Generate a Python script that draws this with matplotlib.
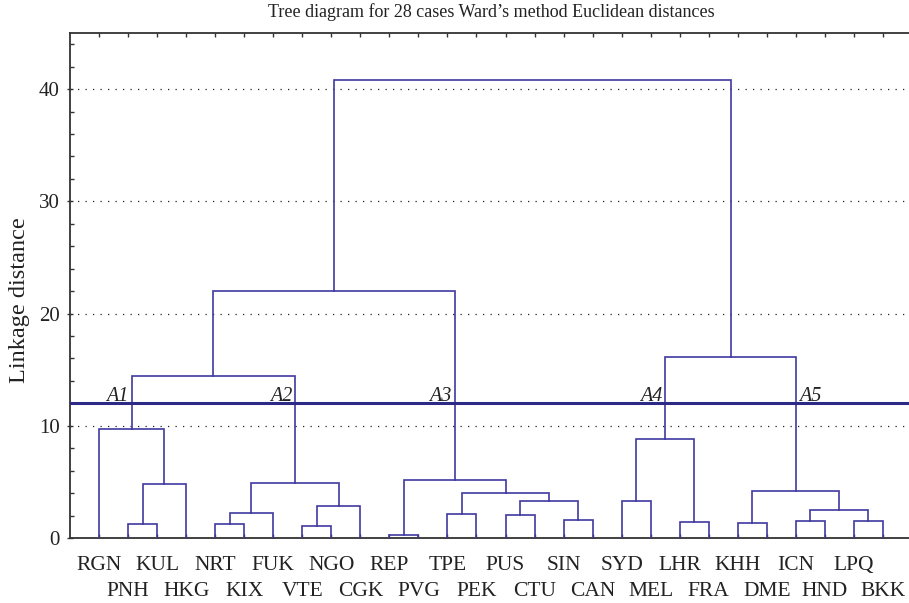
import numpy as np
import matplotlib.pyplot as plt
from matplotlib.ticker import MultipleLocator

plt.rcParams['font.family'] = ['Liberation Serif', 'DejaVu Serif']

# leaf order as drawn (left to right)
leaf_labels = ["RGN", "PNH", "KUL", "HKG", "NRT", "KIX", "FUK", "VTE", "NGO", "CGK",
               "REP", "PVG", "TPE", "PEK", "PUS", "CTU", "SIN", "CAN", "SYD", "MEL",
               "LHR", "FRA", "KHH", "DME", "ICN", "HND", "LPQ", "BKK"]

# merges, scipy style: ids < 28 are leaves, id 28+k is the k-th merge
merge_left = [1, 28, 0, 4, 31, 7, 33, 32, 30, 10, 12, 14, 16, 39, 38, 37, 36,
              18, 20, 45, 22, 24, 26, 49, 48, 47, 44]
merge_right = [2, 3, 29, 5, 6, 8, 9, 34, 35, 11, 13, 15, 17, 40, 41, 42, 43,
               19, 21, 46, 23, 25, 27, 50, 51, 52, 53]
merge_height = [1.25, 4.81, 9.74, 1.22, 2.26, 1.04, 2.88, 4.87, 14.43,
                0.30, 2.17, 2.05, 1.63, 3.27, 4.01, 5.20, 22.0,
                3.27, 1.43, 8.79, 1.34, 1.54, 1.54, 2.52, 4.16, 16.15, 40.8]

cut_level = 12
cluster_names = ["A1", "A2", "A3", "A4", "A5"]

line_col = '#4038a0'
cut_col = '#2c2a86'
text_col = '#222222'

fig = plt.figure(figsize=(9.09, 6.03), dpi=100)
ax = fig.add_axes([70 / 909, 65 / 603, 842 / 909, 505 / 603])

n = len(leaf_labels)
pos = {i: i + 1 for i in range(n)}
hgt = {i: 0.0 for i in range(n)}
parent = {}
for k, (a, b, h) in enumerate(zip(merge_left, merge_right, merge_height)):
    node = n + k
    ax.plot([pos[a], pos[a], pos[b], pos[b]], [hgt[a], h, h, hgt[b]],
            color=line_col, lw=1.2, solid_joinstyle='miter', zorder=3)
    pos[node] = (pos[a] + pos[b]) / 2
    hgt[node] = h
    parent[a] = node
    parent[b] = node

# cut line and cluster names
ax.axhline(cut_level, color=cut_col, lw=2.2, zorder=4)
crossing = sorted([c for c in parent if hgt[c] < cut_level < hgt[parent[c]]],
                  key=lambda c: pos[c])
for i, (c, name) in enumerate(zip(crossing, cluster_names)):
    right = i == len(crossing) - 1
    ax.annotate(name, xy=(pos[c], cut_level), xytext=(2 if right else -2, 2),
                textcoords='offset points', ha='left' if right else 'right',
                va='baseline', fontsize=14.5, style='italic', color=text_col)

ax.set_xlim(0, n + 1)
ax.set_ylim(0, 45)

ax.set_xticks(np.arange(1, n + 1))
ax.set_xticklabels([])
for i, lab in enumerate(leaf_labels):
    off = -23 if i % 2 == 0 else -42
    ax.annotate(lab, xy=(i + 1, 0), xycoords=('data', 'axes fraction'),
                xytext=(0, off), textcoords='offset points', ha='center',
                va='baseline', fontsize=15.5, color=text_col,
                annotation_clip=False)

ax.yaxis.set_major_locator(MultipleLocator(10))
ax.yaxis.set_minor_locator(MultipleLocator(2))
ax.tick_params(axis='x', which='major', direction='in', length=3, top=True,
               bottom=True, width=1, color='#333333')
ax.tick_params(axis='y', which='major', direction='inout', length=5, pad=5,
               labelsize=15, labelcolor=text_col, right=True, width=1,
               color='#333333')
ax.tick_params(axis='y', which='minor', direction='in', length=3, right=False,
               width=1, color='#333333')

ax.grid(axis='y', which='major', color='#222222', linestyle=(0, (1, 5)), lw=0.9)
ax.set_axisbelow(True)

for sp in ax.spines.values():
    sp.set_color('#333333')
    sp.set_linewidth(1.3)

ax.set_ylabel("Linkage distance", fontsize=17.5, color=text_col)
ax.yaxis.set_label_coords(-0.047, 0.471)

fig.text(491 / 909, 1 - 17 / 603, "Tree diagram for 28 cases Ward’s method Euclidean distances",
         ha='center', va='baseline', fontsize=13, color=text_col)

fig.savefig("out.png", dpi=100)
